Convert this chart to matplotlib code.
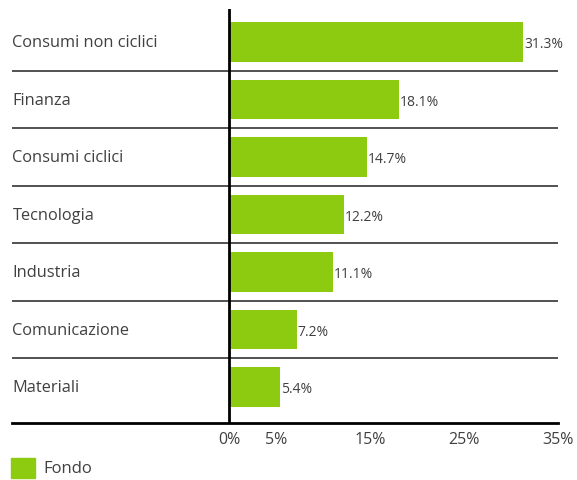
import matplotlib.pyplot as plt
import matplotlib.patches as mpatches

plt.rcParams['font.family'] = ['Open Sans', 'DejaVu Sans']

categories = ['Consumi non ciclici', 'Finanza', 'Consumi ciclici', 'Tecnologia',
              'Industria', 'Comunicazione', 'Materiali']
values = [31.3, 18.1, 14.7, 12.2, 11.1, 7.2, 5.4]
tick_vals = [0, 5, 15, 25, 35]
series_name = 'Fondo'

green = '#8CCB10'
txt = '#404040'

W, H = 577, 481
fig = plt.figure(figsize=(W / 100, H / 100), dpi=100)
# axes from x=12..558 px, y=10..424 px
ax = fig.add_axes([12 / W, 1 - 424 / H, (558 - 12) / W, (424 - 10) / H])

x0 = -(230 - 12) / 9.45
ax.set_xlim(x0, x0 + (558 - 12) / 9.45)
ax.set_ylim(6.626, -0.574)

ypos = list(range(len(categories)))
ax.barh(ypos, values, height=0.68, color=green, left=0)

for y, v in zip(ypos, values):
    ax.text(v + 0.1, y + 0.03, f'{v:.1f}%', va='center', ha='left', fontsize=10, color=txt)

for y, c in zip(ypos, categories):
    ax.text(x0 + 0.05, y, c, va='center', ha='left', fontsize=11.8, color=txt)

for y in ypos[:-1]:
    ax.axhline(y + 0.5, color='#333333', lw=1.2)

ax.axvline(0, color='black', lw=2)

for s in ['top', 'right', 'left']:
    ax.spines[s].set_visible(False)
ax.spines['bottom'].set_linewidth(2)
ax.spines['bottom'].set_color('black')

ax.set_yticks([])
ax.set_xticks(tick_vals)
ax.set_xticklabels([f'{t}%' for t in tick_vals], fontsize=11.5, color=txt)
ax.tick_params(axis='x', length=0, pad=6)

# legend
fig.patches.append(mpatches.Rectangle((11 / W, 1 - 479 / H), 24 / W, 20 / H,
                                      transform=fig.transFigure, color=green))
fig.text(43 / W, 1 - 469 / H, series_name, va='center', ha='left', fontsize=12, color=txt)

fig.savefig('out.png', dpi=100)
